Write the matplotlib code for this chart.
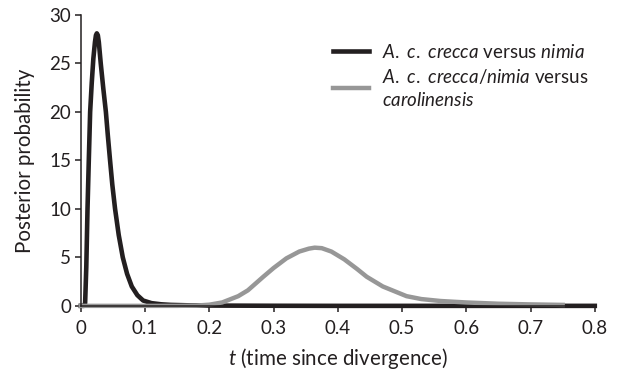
import matplotlib
matplotlib.use("Agg")
import matplotlib.pyplot as plt

plt.rcParams['font.family'] = ['Lato', 'DejaVu Sans']
plt.rcParams['mathtext.fontset'] = 'custom'
plt.rcParams['mathtext.rm'] = 'Lato'
plt.rcParams['mathtext.it'] = 'Lato:italic'

# A. c. crecca versus nimia
t_nimia = [0.0, 0.005, 0.0067, 0.0085, 0.0104, 0.0124, 0.0145, 0.017, 0.0195, 0.022,
           0.0235, 0.0249, 0.0265, 0.028, 0.031, 0.035, 0.039, 0.042, 0.0455, 0.049,
           0.0533, 0.059, 0.0653, 0.072, 0.0793, 0.088, 0.097, 0.11, 0.125, 0.14,
           0.17, 0.2, 0.3, 0.4, 0.8]
p_nimia = [0.0, 0.0, 0.3, 4.0, 10.0, 15.0, 20.0, 23.0, 25.5, 27.2,
           27.9, 28.1, 27.9, 27.2, 25.0, 22.4, 20.0, 17.6, 15.0, 12.5,
           10.0, 7.3, 5.0, 3.3, 2.0, 1.1, 0.55, 0.28, 0.16, 0.1,
           0.05, 0.03, 0.01, 0.0, 0.0]

# A. c. crecca/nimia versus carolinensis
t_carol = [0.0, 0.15, 0.18, 0.20, 0.22, 0.245, 0.26, 0.284, 0.30, 0.32, 0.34,
           0.355, 0.364, 0.375, 0.39, 0.41, 0.43, 0.445, 0.47, 0.507, 0.53,
           0.56, 0.60, 0.65, 0.70, 0.75]
p_carol = [0.0, 0.0, 0.03, 0.12, 0.35, 1.0, 1.6, 3.0, 3.9, 4.9, 5.6,
           5.9, 6.0, 5.95, 5.6, 4.8, 3.8, 3.0, 2.0, 1.0, 0.7,
           0.5, 0.35, 0.22, 0.15, 0.1]

xticks = [0, 0.1, 0.2, 0.3, 0.4, 0.5, 0.6, 0.7, 0.8]
xticklabels = ['0', '0.1', '0.2', '0.3', '0.4', '0.5', '0.6', '0.7', '0.8']
yticks = [0, 5, 10, 15, 20, 25, 30]

fig = plt.figure(figsize=(6.17, 3.73), dpi=100)
ax = fig.add_axes([0.131, 0.180, 0.833, 0.780])

ax.plot(t_nimia, p_nimia, color='#231f20', lw=3.3, clip_on=False,
        solid_joinstyle='round', label=r'$\mathit{A.\ c.\ crecca}$ versus $\mathit{nimia}$')
ax.plot(t_carol, p_carol, color='#979797', lw=3.2, clip_on=False,
        solid_joinstyle='round',
        label=r'$\mathit{A.\ c.\ crecca/nimia}$ versus' + '\n' + r'$\mathit{carolinensis}$')

ax.set_xlim(0, 0.8)
ax.set_ylim(0, 30)
ax.set_xticks(xticks)
ax.set_xticklabels(xticklabels)
ax.set_yticks(yticks)
for s in ['top', 'right']:
    ax.spines[s].set_visible(False)
for s in ['left', 'bottom']:
    ax.spines[s].set_color('#231f20')
    ax.spines[s].set_linewidth(1.1)
ax.tick_params(direction='out', length=4, width=1.1, color='#231f20',
               labelsize=13.5, labelcolor='#231f20')
ax.tick_params(axis='x', pad=6)
ax.tick_params(axis='y', pad=3)

ax.set_xlabel(r'$\mathit{t}$ (time since divergence)', fontsize=14.8, color='#231f20', labelpad=7)
ax.set_ylabel('Posterior probability', fontsize=14.8, color='#231f20', labelpad=10)

leg = ax.legend(loc='upper left', bbox_to_anchor=(0.540, 0.885), bbox_transform=fig.transFigure,
                frameon=False, fontsize=13.5, handlelength=1.92, handletextpad=0.69,
                labelspacing=0.3, labelcolor='#231f20', borderpad=0, borderaxespad=0)
for txt in leg.get_texts():
    txt.set_linespacing(1.35)

fig.savefig('out.png', dpi=100)
